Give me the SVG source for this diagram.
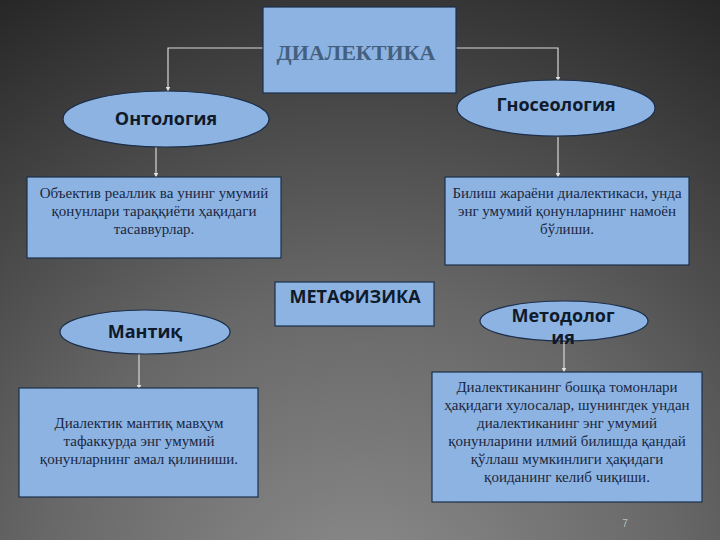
<svg xmlns="http://www.w3.org/2000/svg" width="720" height="540" viewBox="0 0 720 540">
<defs>
<radialGradient id="bg" cx="360" cy="620" r="720" gradientUnits="userSpaceOnUse">
<stop offset="0" stop-color="#8e8e8e"/>
<stop offset="0.45" stop-color="#686868"/>
<stop offset="1" stop-color="#262626"/>
</radialGradient>
<marker id="arr" viewBox="0 0 10 10" refX="9" refY="5" markerWidth="5" markerHeight="5" orient="auto" markerUnits="userSpaceOnUse">
<path d="M0,0 L10,5 L0,10 z" fill="#e0e0e0"/>
</marker>
<style>
.box{fill:#8db3e2;stroke:#1c2f4a;stroke-width:1.2}
.ell{fill:#8db3e2;stroke:#1c2f4a;stroke-width:1.2}
.conn{fill:none;stroke:#d8d8d8;stroke-width:1.2;marker-end:url(#arr)}
.lbl{font-family:'Open Sans','Noto Sans','DejaVu Sans',sans-serif;font-weight:bold;font-size:18px;fill:#0f1a2a;text-anchor:middle}
.body{font-family:'Liberation Serif','DejaVu Serif',serif;font-size:15px;fill:#1a2740;text-anchor:middle}
.title{font-family:'Liberation Serif','DejaVu Serif',serif;font-weight:bold;font-size:22px;fill:#44607f;text-anchor:middle}
</style>
</defs>
<rect x="0" y="0" width="720" height="540" fill="url(#bg)"/>

<g id="connectors">
<path class="conn" d="M263,48 H168 V91"/>
<path class="conn" d="M456,48 H558 V81"/>
<path class="conn" d="M156,147 V177"/>
<path class="conn" d="M558,137 V177"/>
<path class="conn" d="M139,354 V389"/>
<path class="conn" d="M564,342 V372"/>
</g>

<g id="dialektika">
<rect class="box" x="263" y="7" width="193" height="86"/>
<text class="title" x="356" y="60">ДИАЛЕКТИКА</text>
</g>

<g id="ontologiya">
<ellipse class="ell" cx="166" cy="119" rx="103" ry="28"/>
<text class="lbl" x="166" y="125">Онтология</text>
</g>

<g id="gnoseologiya">
<ellipse class="ell" cx="556" cy="108" rx="99" ry="28"/>
<text class="lbl" x="556" y="111">Гносеология</text>
</g>

<g id="box-ontologiya">
<rect class="box" x="27" y="177" width="254" height="81"/>
<text class="body"><tspan x="154" y="198">Объектив реаллик ва унинг умумий</tspan><tspan x="154" y="216">қонунлари тараққиёти ҳақидаги</tspan><tspan x="154" y="234">тасаввурлар.</tspan></text>
</g>

<g id="box-gnoseologiya">
<rect class="box" x="445" y="177" width="244" height="88"/>
<text class="body"><tspan x="567" y="198">Билиш жараёни диалектикаси, унда</tspan><tspan x="567" y="216">энг умумий қонунларнинг намоён</tspan><tspan x="567" y="234">бўлиши.</tspan></text>
</g>

<g id="metafizika">
<rect class="box" x="275" y="282" width="159" height="44"/>
<text class="lbl" x="355" y="303">МЕТАФИЗИКА</text>
</g>

<g id="mantiq">
<ellipse class="ell" cx="145" cy="332" rx="85" ry="22"/>
<text class="lbl" x="145" y="338">Мантиқ</text>
</g>

<g id="metodologiya">
<ellipse class="ell" cx="564" cy="321" rx="84" ry="20"/>
<text class="lbl"><tspan x="563" y="322">Методолог</tspan><tspan x="563" y="344">ия</tspan></text>
</g>

<g id="box-mantiq">
<rect class="box" x="19" y="388" width="239" height="109"/>
<text class="body"><tspan x="139" y="428">Диалектик мантиқ мавҳум</tspan><tspan x="139" y="446">тафаккурда энг умумий</tspan><tspan x="139" y="464">қонунларнинг амал қилиниши.</tspan></text>
</g>

<g id="box-metodologiya">
<rect class="box" x="432" y="372" width="270" height="130"/>
<text class="body"><tspan x="567" y="392">Диалектиканинг бошқа томонлари</tspan><tspan x="567" y="410">ҳақидаги хулосалар, шунингдек ундан</tspan><tspan x="567" y="428">диалектиканинг энг умумий</tspan><tspan x="567" y="446">қонунларини илмий билишда қандай</tspan><tspan x="567" y="464">қўллаш мумкинлиги ҳақидаги</tspan><tspan x="567" y="482">қоиданинг келиб чиқиши.</tspan></text>
</g>

<text x="625" y="527" text-anchor="middle" font-family="'Liberation Sans',Arial,sans-serif" font-size="10" fill="#bdbdbd">7</text>
</svg>
